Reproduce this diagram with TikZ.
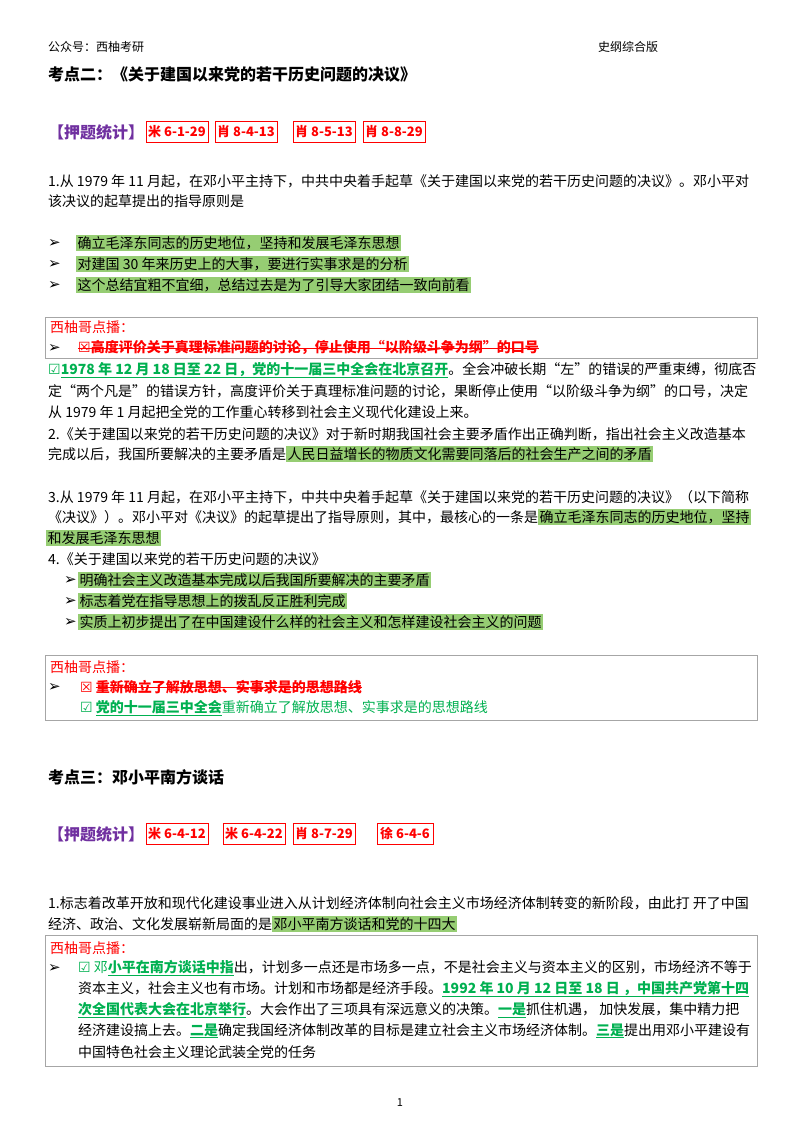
\documentclass[tikz,border=0pt]{standalone}
\usepackage{fontspec}
\setmainfont{Noto Sans CJK SC}
\newfontfamily\sym{DejaVu Sans}
\definecolor{tgreen}{RGB}{0,176,80}
\definecolor{hlgreen}{RGB}{150,205,115}
\definecolor{tpurple}{RGB}{112,48,160}
\definecolor{tred}{RGB}{255,0,0}
\newcommand\body{\fontsize{14}{17}\selectfont}
\newcommand\hlg[1]{{\setlength{\fboxsep}{1.5pt}\colorbox{hlgreen}{#1}}}
\newcommand\ulbox[1]{{\setbox0\hbox{#1}\rlap{\rule[-2.5pt]{\wd0}{0.7pt}}\box0}}
\newcommand\strk[1]{{\setbox0\hbox{#1}\rlap{\rule[4.5pt]{\wd0}{0.9pt}}\box0}}
\newcommand\gul[1]{{\color{tgreen}\bfseries\ulbox{#1}}}
\newcommand\arr{{\sym\bfseries\fontsize{15}{17}\selectfont ➢}}
\newcommand\yes{{\sym\color{tgreen}☑}}
\newcommand\no{{\sym\color{tred}☒}}
\tikzset{
  txt/.style={anchor=west, inner sep=0pt, font=\body},
  head/.style={anchor=west, inner sep=0pt, font=\fontsize{16}{19}\selectfont\bfseries},
  tag/.style={draw=tred, line width=0.8pt, text=tred, inner sep=0pt,
    minimum width=62, minimum height=21, font=\fontsize{13}{15}\selectfont\bfseries},
  notebox/.style={draw=gray!70, line width=0.8pt}
}
\begin{document}
\begin{tikzpicture}[x=1pt,y=-1pt]
\path[use as bounding box] (0,0) rectangle (800,1132);

% Page header
  \node[txt, font=\fontsize{12}{14}\selectfont] (pub) at (48,47) {公众号：西柚考研};
  \node[txt, font=\fontsize{12}{14}\selectfont] (ver) at (598,47) {史纲综合版};

% Topic two
  \node[head] (topic2) at (48,75) {考点二：《关于建国以来党的若干历史问题的决议》};
  \node[head, text=tpurple] (stat2) at (48,132) {【押题统计】};
  \node[tag] (t21) at (177,132) {米 6-1-29};
  \node[tag] (t22) at (246,132) {肖 8-4-13};
  \node[tag] (t23) at (324,132) {肖 8-5-13};
  \node[tag] (t24) at (394,132) {肖 8-8-29};

  \node[txt] (q1a) at (48,181) {1.从 1979 年 11 月起，在邓小平主持下，中共中央着手起草《关于建国以来党的若干历史问题的决议》。邓小平对};
  \node[txt] (q1b) at (48,201) {该决议的起草提出的指导原则是};
  \node[txt] (b1) at (48,243) {\arr};
  \node[txt] (b2) at (48,264) {\arr};
  \node[txt] (b3) at (48,285) {\arr};
  \node[txt] (a1) at (76,243) {\hlg{确立毛泽东同志的历史地位，坚持和发展毛泽东思想}};
  \node[txt] (a2) at (76,264) {\hlg{对建国 30 年来历史上的大事，要进行实事求是的分析}};
  \node[txt] (a3) at (76,285) {\hlg{这个总结宜粗不宜细，总结过去是为了引导大家团结一致向前看}};

% Note box one
  \draw[notebox] (45,317) rectangle (757,358);
  \node[txt, text=tred] (n1) at (50,327) {西柚哥点播：};
  \node[txt] (nb1) at (48,348) {\arr};
  \node[txt, text=tred] (x1) at (78,348) {\bfseries\strk{\no 高度评价关于真理标准问题的讨论，停止使用“以阶级斗争为纲”的口号}};

  \node[txt] (c1a) at (48,370) {\yes\gul{1978 年 12 月 18 日至 22 日，党的十一届三中全会在北京召开}。全会冲破长期“左”的错误的严重束缚，彻底否};
  \node[txt] (c1b) at (48,391) {定“两个凡是”的错误方针，高度评价关于真理标准问题的讨论，果断停止使用“以阶级斗争为纲”的口号，决定};
  \node[txt] (c1c) at (48,412) {从 1979 年 1 月起把全党的工作重心转移到社会主义现代化建设上来。};
  \node[txt] (q2a) at (48,434) {2.《关于建国以来党的若干历史问题的决议》对于新时期我国社会主要矛盾作出正确判断，指出社会主义改造基本};
  \node[txt] (q2b) at (48,454) {完成以后，我国所要解决的主要矛盾是\hlg{人民日益增长的物质文化需要同落后的社会生产之间的矛盾}};

  \node[txt] (q3a) at (48,497) {3.从 1979 年 11 月起，在邓小平主持下，中共中央着手起草《关于建国以来党的若干历史问题的决议》（以下简称};
  \node[txt] (q3b) at (48,517) {《决议》）。邓小平对《决议》的起草提出了指导原则，其中，最核心的一条是\hlg{确立毛泽东同志的历史地位，坚持}};
  \node[txt] (q3c) at (46,538) {\hlg{和发展毛泽东思想}};
  \node[txt] (q4) at (48,559) {4.《关于建国以来党的若干历史问题的决议》};
  \node[txt] (s1) at (64,580) {\arr};
  \node[txt] (s2) at (64,601) {\arr};
  \node[txt] (s3) at (64,622) {\arr};
  \node[txt] (d1) at (78,580) {\hlg{明确社会主义改造基本完成以后我国所要解决的主要矛盾}};
  \node[txt] (d2) at (78,601) {\hlg{标志着党在指导思想上的拨乱反正胜利完成}};
  \node[txt] (d3) at (78,622) {\hlg{实质上初步提出了在中国建设什么样的社会主义和怎样建设社会主义的问题}};

% Note box two
  \draw[notebox] (45,655) rectangle (757,720);
  \node[txt, text=tred] (n2) at (50,667) {西柚哥点播：};
  \node[txt] (nb2) at (48,687) {\arr};
  \node[txt, text=tred] (x2) at (80,687) {\no\ \bfseries\strk{重新确立了解放思想、实事求是的思想路线}};
  \node[txt, text=tgreen] (y2) at (80,708) {\yes\ \gul{党的十一届三中全会}重新确立了解放思想、实事求是的思想路线};

% Topic three
  \node[head] (topic3) at (48,777) {考点三：邓小平南方谈话};
  \node[head, text=tpurple] (stat3) at (48,834) {【押题统计】};
  \node[tag] (t31) at (177,834) {米 6-4-12};
  \node[tag] (t32) at (254,834) {米 6-4-22};
  \node[tag] (t33) at (324,834) {肖 8-7-29};
  \node[tag, minimum width=56] (t34) at (405,834) {徐 6-4-6};

  \node[txt] (p1a) at (48,903) {1.标志着改革开放和现代化建设事业进入从计划经济体制向社会主义市场经济体制转变的新阶段，由此打 开了中国};
  \node[txt] (p1b) at (48,924) {经济、政治、文化发展崭新局面的是\hlg{邓小平南方谈话和党的十四大}};

% Note box three
  \draw[notebox] (45,935) rectangle (757,1066);
  \node[txt, text=tred] (n3) at (50,948) {西柚哥点播：};
  \node[txt] (nb3) at (48,968) {\arr};
  \node[txt] (e1) at (78,968) {\yes\ {\color{tgreen}邓}\gul{小平在南方谈话中指}出，计划多一点还是市场多一点，不是社会主义与资本主义的区别，市场经济不等于};
  \node[txt] (e2) at (78,989) {资本主义，社会主义也有市场。计划和市场都是经济手段。\gul{1992 年 10 月 12 日至 18 日 ，中国共产党第十四}};
  \node[txt] (e3) at (78,1010) {\gul{次全国代表大会在北京举行}。大会作出了三项具有深远意义的决策。\gul{一是}抓住机遇， 加快发展，集中精力把};
  \node[txt] (e4) at (78,1031) {经济建设搞上去。\gul{二是}确定我国经济体制改革的目标是建立社会主义市场经济体制。\gul{三是}提出用邓小平建设有};
  \node[txt] (e5) at (78,1052) {中国特色社会主义理论武装全党的任务};

% Page number
  \node[font=\fontsize{11}{13}\selectfont] (pg) at (400,1103) {1};
\end{tikzpicture}
\end{document}
